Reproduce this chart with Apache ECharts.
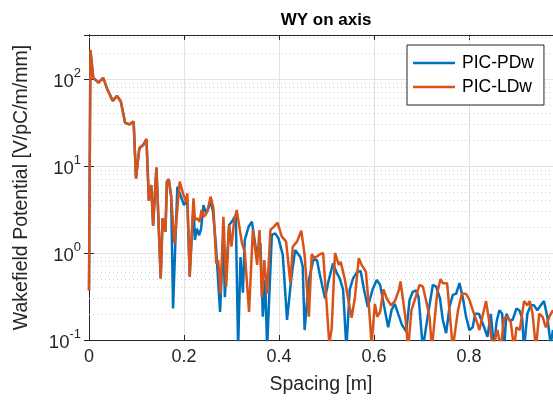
<!DOCTYPE html>
<html lang="en">
<head>
  <meta charset="UTF-8">
  <title>WY on axis</title>
  <script src="https://cdn.jsdelivr.net/npm/echarts@6/dist/echarts.min.js"></script>
</head>
<style>
  html, body { margin: 0; padding: 0; background: #fff; }
  #main { width: 553px; height: 400px; }
</style>
<body>
  <div id="main"></div>
  <script>
    // [spacing (m), wakefield potential (V/pC/m/mm)]
    var pdPoints = [
      [0, 0.37], [0.003, 215], [0.009, 103], [0.020, 91], [0.030, 103], [0.039, 75], [0.050, 56],
      [0.059, 64], [0.067, 55], [0.076, 31.4], [0.085, 30.1], [0.094, 32.3], [0.099, 7.2],
      [0.106, 16], [0.114, 17.4], [0.121, 20.4], [0.126, 4.0], [0.131, 6.05], [0.135, 2.06],
      [0.142, 9.56], [0.151, 0.51], [0.155, 2.5], [0.161, 1.76], [0.164, 6.6], [0.168, 7.03],
      [0.173, 4.44], [0.177, 0.23], [0.186, 5.78], [0.200, 3.56], [0.204, 3.7], [0.207, 4.06],
      [0.212, 0.55], [0.220, 3.5], [0.223, 1.41], [0.227, 1.9], [0.232, 1.6], [0.236, 1.9],
      [0.241, 3.56], [0.246, 2.9], [0.252, 3.3], [0.256, 4.0], [0.261, 3.0], [0.267, 1.29],
      [0.276, 0.21], [0.283, 1.68], [0.286, 0.31], [0.295, 2.1], [0.301, 2.3], [0.309, 2.73],
      [0.314, 0.08], [0.319, 0.9], [0.324, 0.35], [0.328, 1.41], [0.336, 2.0], [0.343, 2.29],
      [0.354, 0.9], [0.361, 1.29], [0.366, 0.185], [0.371, 0.49], [0.375, 0.08], [0.385, 1.61],
      [0.392, 1.68], [0.399, 1.47], [0.408, 0.95], [0.417, 0.17], [0.426, 0.51], [0.434, 1.08],
      [0.445, 0.9], [0.450, 0.7], [0.454, 0.13], [0.463, 0.49], [0.472, 0.83], [0.480, 0.83],
      [0.485, 0.6], [0.497, 0.30], [0.504, 0.47], [0.514, 0.76], [0.521, 0.6], [0.528, 0.51],
      [0.535, 0.38], [0.542, 0.08], [0.549, 0.38], [0.556, 0.51], [0.565, 0.61], [0.572, 0.62],
      [0.579, 0.38], [0.587, 0.24], [0.592, 0.3], [0.597, 0.38], [0.606, 0.49], [0.613, 0.43],
      [0.621, 0.25], [0.630, 0.14], [0.637, 0.22], [0.644, 0.26], [0.651, 0.20], [0.659, 0.149],
      [0.668, 0.125], [0.675, 0.29], [0.682, 0.36], [0.689, 0.37], [0.694, 0.31], [0.703, 0.08],
      [0.714, 0.2], [0.724, 0.43], [0.731, 0.41], [0.739, 0.3], [0.745, 0.17], [0.752, 0.12],
      [0.759, 0.24], [0.766, 0.33], [0.773, 0.34], [0.780, 0.45], [0.787, 0.31], [0.794, 0.185],
      [0.801, 0.13], [0.808, 0.14], [0.813, 0.20], [0.821, 0.2], [0.832, 0.14], [0.839, 0.109],
      [0.846, 0.2], [0.853, 0.08], [0.858, 0.16], [0.864, 0.22], [0.870, 0.2], [0.874, 0.08],
      [0.879, 0.2], [0.885, 0.17], [0.892, 0.17], [0.900, 0.23], [0.906, 0.22], [0.912, 0.18],
      [0.916, 0.08], [0.923, 0.2], [0.930, 0.25], [0.937, 0.25], [0.944, 0.22], [0.951, 0.25],
      [0.958, 0.28], [0.965, 0.185], [0.972, 0.09], [0.977, 0.13]
    ];

    var ldPoints = [
      [0, 0.37], [0.003, 215], [0.009, 103], [0.020, 91], [0.030, 103], [0.039, 75], [0.050, 56],
      [0.059, 64], [0.067, 55], [0.076, 31.4], [0.085, 30.1], [0.094, 32.3], [0.099, 7.2],
      [0.106, 16], [0.114, 17.4], [0.121, 20.4], [0.126, 4.0], [0.131, 6.05], [0.135, 2.06],
      [0.142, 9.56], [0.151, 0.51], [0.155, 2.5], [0.161, 1.76], [0.164, 6.6], [0.168, 7.03],
      [0.173, 4.44], [0.180, 1.29], [0.191, 6.6], [0.199, 4.64], [0.204, 3.89], [0.207, 4.86],
      [0.212, 0.53], [0.220, 4.25], [0.223, 2.4], [0.228, 2.5], [0.233, 2.29], [0.237, 3.12],
      [0.242, 2.61], [0.249, 2.98], [0.256, 4.44], [0.262, 3.26], [0.268, 0.76], [0.272, 0.83],
      [0.277, 0.34], [0.283, 2.61], [0.289, 0.41], [0.295, 2.1], [0.300, 1.18], [0.305, 2.19],
      [0.311, 3.12], [0.322, 1.3], [0.328, 1.03], [0.337, 0.21], [0.345, 1.84], [0.354, 0.73],
      [0.359, 1.84], [0.364, 0.31], [0.369, 0.83], [0.375, 0.34], [0.382, 1.84], [0.389, 2.0],
      [0.397, 2.23], [0.406, 1.54], [0.415, 1.35], [0.424, 0.45], [0.429, 1.18], [0.438, 1.35],
      [0.447, 1.8], [0.454, 0.95], [0.463, 0.185], [0.469, 0.97], [0.475, 0.87], [0.484, 0.95],
      [0.493, 1.0], [0.506, 0.09], [0.511, 0.136], [0.518, 1.0], [0.521, 1.03], [0.526, 0.73],
      [0.530, 0.79], [0.534, 0.76], [0.539, 0.49], [0.546, 0.29], [0.553, 0.18], [0.560, 0.31],
      [0.568, 0.87], [0.574, 0.73], [0.583, 0.61], [0.590, 0.22], [0.595, 0.09], [0.602, 0.26],
      [0.607, 0.185], [0.613, 0.21], [0.620, 0.38], [0.627, 0.30], [0.636, 0.25], [0.644, 0.28],
      [0.653, 0.38], [0.656, 0.47], [0.666, 0.185], [0.672, 0.08], [0.679, 0.22], [0.686, 0.29],
      [0.696, 0.43], [0.703, 0.41], [0.710, 0.28], [0.717, 0.185], [0.722, 0.08], [0.733, 0.34],
      [0.740, 0.50], [0.745, 0.45], [0.754, 0.45], [0.766, 0.08], [0.777, 0.22], [0.785, 0.34],
      [0.794, 0.34], [0.801, 0.29], [0.808, 0.22], [0.817, 0.16], [0.822, 0.13], [0.836, 0.28],
      [0.843, 0.16], [0.850, 0.08], [0.860, 0.13], [0.867, 0.08], [0.874, 0.18], [0.881, 0.185],
      [0.888, 0.16], [0.895, 0.08], [0.900, 0.14], [0.907, 0.13], [0.916, 0.28], [0.923, 0.25],
      [0.928, 0.28], [0.934, 0.2], [0.941, 0.08], [0.948, 0.2], [0.955, 0.185], [0.962, 0.14],
      [0.969, 0.185], [0.977, 0.22]
    ];

    // minor log grid lines (2..9 x 10^n)
    var minorTicks = [0.2, 0.3, 0.4, 0.5, 0.6, 0.7, 0.8, 0.9, 2, 3, 4, 5, 6, 7, 8, 9,
      20, 30, 40, 50, 60, 70, 80, 90, 200, 300];

    var myChart = echarts.init(document.getElementById('main'));
    var axisColor = '#262626';
    var font = 'Liberation Sans, Arial, Helvetica, sans-serif';

    function powLabel(v) {
      var e = Math.round(Math.log(v) / Math.LN10);
      return '{b|10}{sup|' + e + '}';
    }

    var option = {
      animation: false,
      title: {
        text: 'WY on axis',
        left: 321,
        top: 7,
        textAlign: 'center',
        textStyle: { fontFamily: font, fontSize: 17, fontWeight: 'bold', color: '#000' }
      },
      legend: {
        data: ['PIC-PDw', 'PIC-LDw'],
        orient: 'vertical',
        left: 407,
        top: 45,
        z: 20,
        icon: 'rect',
        backgroundColor: '#fff',
        borderColor: axisColor,
        borderWidth: 1,
        padding: [9, 10, 9, 6],
        itemWidth: 42,
        itemHeight: 2.5,
        itemGap: 6,
        textStyle: { fontFamily: font, fontSize: 17.5, color: '#000', padding: [0, 0, 0, 2] }
      },
      grid: { left: 89, right: 0, top: 35, bottom: 60 },
      xAxis: [
        {
          type: 'value',
          min: 0,
          max: 0.977,
          interval: 0.2,
          position: 'bottom',
          name: 'Spacing [m]',
          nameLocation: 'middle',
          nameGap: 35,
          nameTextStyle: { fontFamily: font, fontSize: 19.5, color: axisColor },
          axisLine: { onZero: false, lineStyle: { color: axisColor } },
          axisTick: { inside: true, length: 5, lineStyle: { color: axisColor } },
          axisLabel: { showMaxLabel: false, margin: 8, fontFamily: font, fontSize: 18, color: axisColor },
          splitLine: { show: true, lineStyle: { color: '#e3e3e3' } }
        },
        {
          type: 'value',
          min: 0,
          max: 0.977,
          interval: 0.2,
          position: 'top',
          axisLine: { show: true, onZero: false, lineStyle: { color: axisColor } },
          axisTick: { show: true, inside: true, length: 5, lineStyle: { color: axisColor } },
          axisLabel: { show: false },
          splitLine: { show: false }
        }
      ],
      yAxis: [
        {
          type: 'log',
          logBase: 10,
          min: 0.1,
          max: 320,
          position: 'left',
          name: 'Wakefield Potential [V/pC/m/mm]',
          nameLocation: 'middle',
          nameGap: 57,
          nameTextStyle: { fontFamily: font, fontSize: 19.5, color: axisColor },
          axisLine: { show: true, lineStyle: { color: axisColor } },
          axisTick: { show: true, inside: true, length: 5, lineStyle: { color: axisColor } },
          axisLabel: {
            showMaxLabel: false,
            margin: 8,
            formatter: powLabel,
            rich: {
              b: { fontFamily: font, fontSize: 18.5, color: axisColor, lineHeight: 24, verticalAlign: 'bottom' },
              sup: { fontFamily: font, fontSize: 13, color: axisColor, lineHeight: 13, verticalAlign: 'top' }
            }
          },
          splitLine: { show: true, lineStyle: { color: '#e3e3e3' } }
        },
        {
          type: 'log',
          logBase: 10,
          min: 0.1,
          max: 320,
          position: 'right',
          axisLine: { show: true, lineStyle: { color: axisColor } },
          axisTick: { show: true, inside: true, length: 5, lineStyle: { color: axisColor } },
          axisLabel: { show: false },
          splitLine: { show: false }
        }
      ],
      series: [
        {
          name: 'minor',
          type: 'line',
          data: [],
          silent: true,
          z: 1,
          markLine: {
            silent: true,
            z: 1,
            symbol: 'none',
            animation: false,
            label: { show: false },
            lineStyle: { color: '#cdcdcd', type: [1, 3], width: 1 },
            data: minorTicks.map(function (v) { return { yAxis: v }; })
          }
        },
        {
          name: 'PIC-PDw',
          type: 'line',
          data: pdPoints,
          symbol: 'none',
          z: 3,
          lineStyle: { width: 2.5, color: '#0072BD' },
          itemStyle: { color: '#0072BD' }
        },
        {
          name: 'PIC-LDw',
          type: 'line',
          data: ldPoints,
          symbol: 'none',
          z: 4,
          lineStyle: { width: 2.5, color: '#D95319' },
          itemStyle: { color: '#D95319' }
        }
      ]
    };

    myChart.setOption(option);
  </script>
</body>
</html>
